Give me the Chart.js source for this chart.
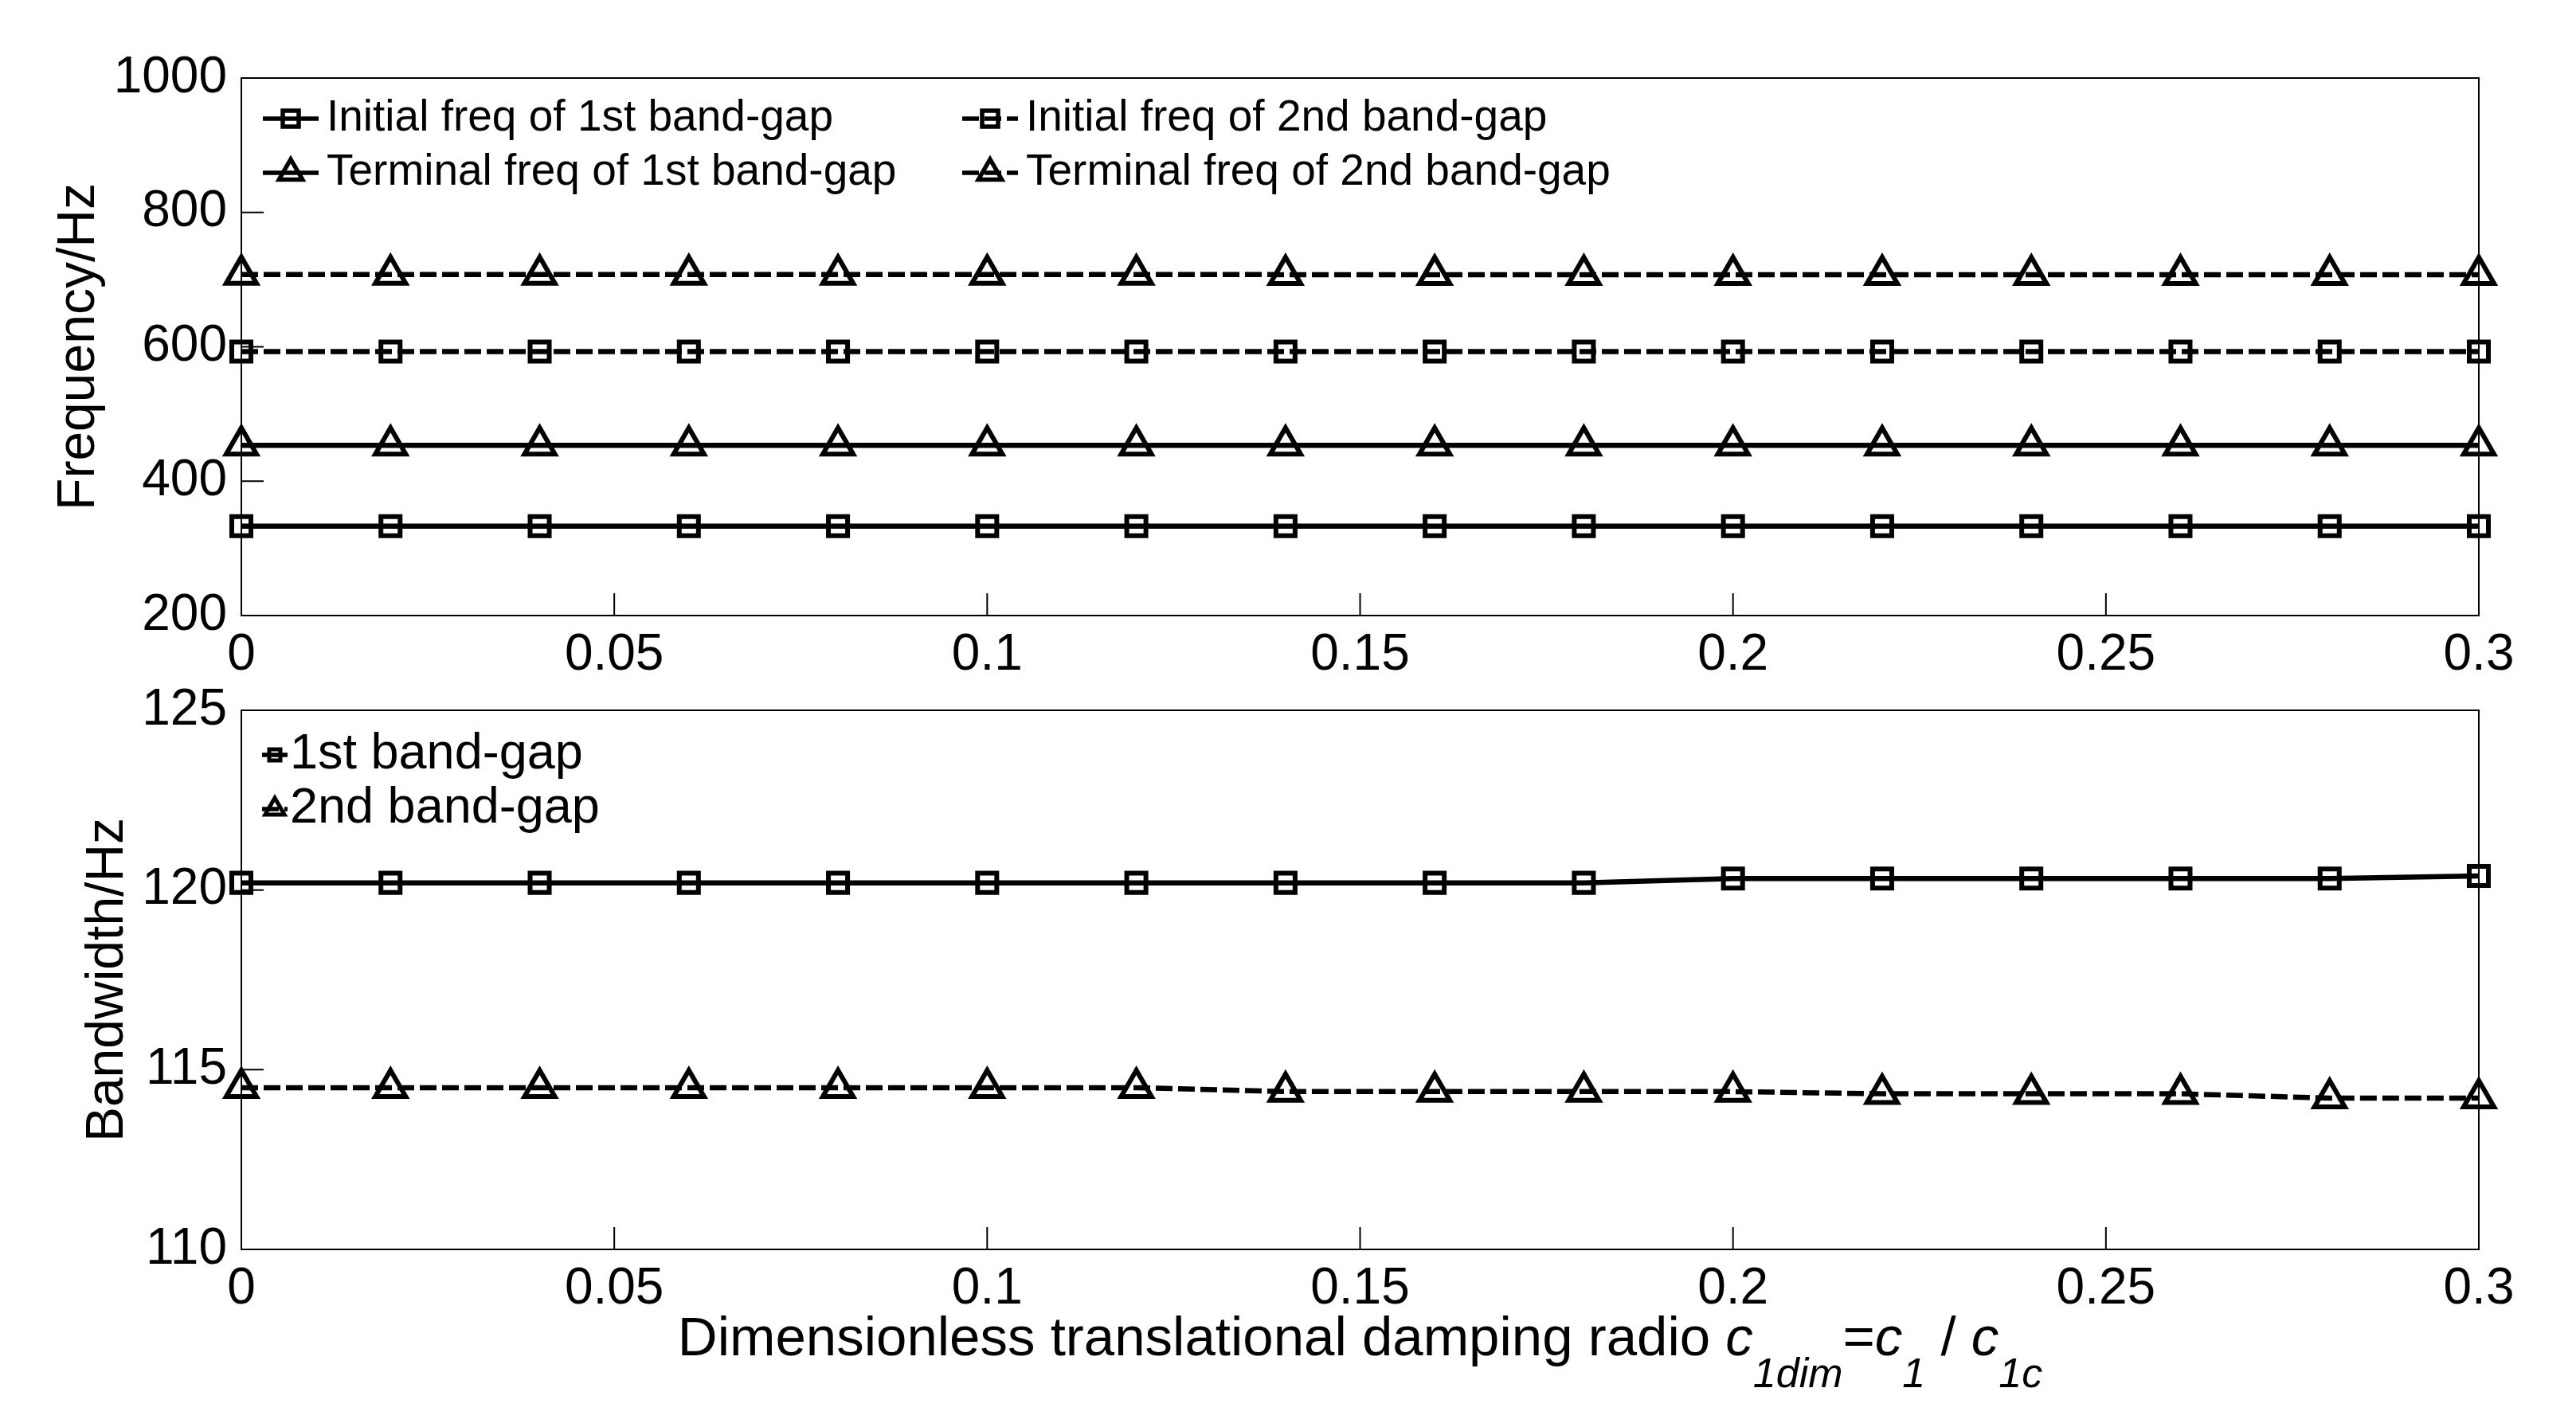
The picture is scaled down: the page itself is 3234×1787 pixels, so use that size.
<!DOCTYPE html>
<html>
<head>
<meta charset="utf-8">
<script src="https://cdn.jsdelivr.net/npm/chart.js@4.4.0/dist/chart.umd.min.js"></script>
<style>
  html, body { margin: 0; padding: 0; background: #fff; }
  #wrap { position: relative; width: 3234px; height: 1787px; }
  canvas { position: absolute; left: 0; }
  #freq-chart { top: 0; }
  #bw-chart { top: 830px; }
</style>
</head>
<body>
<div id="wrap">
  <canvas id="freq-chart" width="3234" height="880"></canvas>
  <canvas id="bw-chart" width="3234" height="957"></canvas>
</div>
<script>
// x: dimensionless damping ratio
const ratios = [0, 0.02, 0.04, 0.06, 0.08, 0.1, 0.12, 0.14, 0.16, 0.18, 0.2, 0.22, 0.24, 0.26, 0.28, 0.3];
const xTicks = [0, 0.05, 0.1, 0.15, 0.2, 0.25, 0.3];
const xTickLabels = ["0", "0.05", "0.1", "0.15", "0.2", "0.25", "0.3"];

// top plot, Hz
const initialFreq1 = [333, 333, 333, 333, 333, 333, 333, 333, 333, 333, 333, 333, 333, 333, 333, 333];
const terminalFreq1 = [453.2, 453.2, 453.2, 453.2, 453.2, 453.2, 453.2, 453.2, 453.2, 453.2, 453.3, 453.3, 453.3, 453.3, 453.3, 453.4];
const initialFreq2 = [593, 593, 593, 593, 593, 593, 593, 593, 593, 593, 593, 593, 593, 593, 593, 593];
const terminalFreq2 = [707.5, 707.5, 707.5, 707.5, 707.5, 707.5, 707.5, 707.4, 707.4, 707.4, 707.4, 707.3, 707.3, 707.3, 707.2, 707.2];
const freqTicks = [200, 400, 600, 800, 1000];

// bottom plot, Hz
const bandwidth1 = [120.2, 120.2, 120.2, 120.2, 120.2, 120.2, 120.2, 120.2, 120.2, 120.2, 120.32, 120.32, 120.32, 120.32, 120.32, 120.39];
const bandwidth2 = [114.5, 114.5, 114.5, 114.5, 114.5, 114.5, 114.5, 114.39, 114.39, 114.39, 114.39, 114.33, 114.33, 114.33, 114.21, 114.21];
const bwTicks = [110, 115, 120, 125];

const FONT = '"Liberation Sans", Arial, Helvetica, sans-serif';
const DASH = [21, 7];
const TICK_LEN = 28;

Chart.defaults.font.family = FONT;
Chart.defaults.color = "#000";

const toPoints = (ys) => ratios.map((x, i) => ({ x, y: ys[i] }));

const series = (label, ys, marker, dashed) => ({
    label,
    data: toPoints(ys),
    borderColor: "#000",
    borderWidth: 6.5,
    borderDash: dashed ? DASH : [],
    pointStyle: marker,
    pointRadius: marker === "rect" ? 17 : 22,
    pointBorderWidth: 6,
    pointBorderColor: "#000",
    pointBackgroundColor: "rgba(0,0,0,0)",
    fill: false,
    tension: 0,
    clip: false
});

// box round the plot area and inward ticks, like the original figure
const boxTicks = {
    id: "boxTicks",
    beforeDatasetsDraw(chart) {
        const { ctx, chartArea: a, scales: { x, y } } = chart;
        ctx.save();
        ctx.strokeStyle = "#000";
        ctx.lineWidth = 2;
        ctx.strokeRect(a.left, a.top, a.right - a.left, a.bottom - a.top);
        ctx.beginPath();
        x.ticks.forEach(t => {
            const px = x.getPixelForValue(t.value);
            ctx.moveTo(px, a.bottom);
            ctx.lineTo(px, a.bottom - TICK_LEN);
        });
        y.ticks.forEach(t => {
            const py = y.getPixelForValue(t.value);
            ctx.moveTo(a.left, py);
            ctx.lineTo(a.left + TICK_LEN, py);
        });
        ctx.stroke();
        ctx.restore();
    }
};

// legend with line sample + marker, drawn inside the axes
const sampleLegend = {
    id: "sampleLegend",
    afterDatasetsDraw(chart, args, opts) {
        if (!opts.items) return;
        const { ctx, chartArea: a } = chart;
        ctx.save();
        ctx.font = `${opts.size}px ${FONT}`;
        ctx.textBaseline = "middle";
        ctx.fillStyle = "#000";
        ctx.strokeStyle = "#000";
        opts.items.forEach(it => {
            const ds = chart.data.datasets[it.index];
            const x0 = a.left + it.dx;
            const cy = a.top + it.dy;
            ctx.lineWidth = opts.lineWidth;
            ctx.setLineDash(ds.borderDash.length ? DASH : []);
            ctx.beginPath();
            ctx.moveTo(x0, cy);
            ctx.lineTo(x0 + opts.sampleLen, cy);
            ctx.stroke();
            ctx.setLineDash([]);

            const cx = x0 + opts.sampleLen / 2;
            ctx.lineWidth = opts.markerWidth;
            ctx.beginPath();
            if (ds.pointStyle === "rect") {
                const s = opts.square;
                ctx.rect(cx - s / 2, cy - s / 2, s, s);
            } else {
                const r = opts.triangle;
                ctx.moveTo(cx, cy - r);
                ctx.lineTo(cx + 0.866 * r, cy + r / 2);
                ctx.lineTo(cx - 0.866 * r, cy + r / 2);
                ctx.closePath();
            }
            ctx.stroke();
            ctx.fillText(ds.label, x0 + opts.sampleLen + opts.gap, cy);
        });
        ctx.restore();
    }
};

// x title with italic subscripts
const richTitle = {
    id: "richTitle",
    afterDraw(chart, args, opts) {
        if (!opts.parts) return;
        const { ctx, chartArea: a } = chart;
        const fontOf = p => `${p.italic ? "italic " : ""}${p.sub ? opts.subSize : opts.size}px ${FONT}`;
        ctx.save();
        ctx.fillStyle = "#000";
        ctx.textBaseline = "alphabetic";
        let total = 0;
        opts.parts.forEach(p => { ctx.font = fontOf(p); total += ctx.measureText(p.text).width; });
        let x = (a.left + a.right) / 2 - total / 2;
        const base = a.bottom + opts.baseline;
        opts.parts.forEach(p => {
            ctx.font = fontOf(p);
            ctx.fillText(p.text, x, base + (p.sub ? opts.subShift : 0));
            x += ctx.measureText(p.text).width;
        });
        ctx.restore();
    }
};

const createConfig = ({ datasets, yMin, yMax, yTicks, yTitle, yTitlePad, padTop, xHeight, legend, xTitle }) => ({
    type: "line",
    data: { datasets },
    options: {
        responsive: false,
        animation: false,
        events: [],
        layout: { padding: { top: padTop, right: 3234 - 3112, left: 0, bottom: 0 } },
        scales: {
            x: {
                type: "linear",
                min: 0,
                max: 0.3,
                afterBuildTicks: s => { s.ticks = xTicks.map(v => ({ value: v })); },
                afterFit: s => { s.height = xHeight; },
                grid: { display: false },
                border: { display: false },
                ticks: { font: { size: 64 }, padding: 4, maxRotation: 0, autoSkip: false, callback: (v, i) => xTickLabels[i] }
            },
            y: {
                type: "linear",
                min: yMin,
                max: yMax,
                afterBuildTicks: s => { s.ticks = yTicks.map(v => ({ value: v })); },
                afterFit: s => { s.width = 303; },
                grid: { display: false },
                border: { display: false },
                ticks: { font: { size: 64 }, padding: 10, callback: v => `${v}` },
                title: { display: true, text: yTitle, font: { size: 66 }, padding: { top: yTitlePad, bottom: 0 } }
            }
        },
        plugins: {
            legend: { display: false },
            tooltip: { enabled: false },
            sampleLegend: legend,
            richTitle: xTitle || {}
        }
    },
    plugins: [boxTicks, sampleLegend, richTitle]
});

const freqChart = new Chart(document.getElementById("freq-chart"), createConfig({
    datasets: [
        series("Initial freq of 1st band-gap", initialFreq1, "rect", false),
        series("Terminal freq of 1st band-gap", terminalFreq1, "triangle", false),
        series("Initial freq of 2nd band-gap", initialFreq2, "rect", true),
        series("Terminal freq of 2nd band-gap", terminalFreq2, "triangle", true)
    ],
    yMin: 200, yMax: 1000, yTicks: freqTicks,
    yTitle: "Frequency/Hz", yTitlePad: 60,
    padTop: 98, xHeight: 880 - 773,
    legend: {
        size: 55, sampleLen: 70, gap: 10, lineWidth: 5.5, markerWidth: 5.5, square: 20, triangle: 17,
        items: [
            { index: 0, dx: 27, dy: 51 },
            { index: 2, dx: 905, dy: 51 },
            { index: 1, dx: 27, dy: 119 },
            { index: 3, dx: 905, dy: 119 }
        ]
    }
}));

const bwChart = new Chart(document.getElementById("bw-chart"), createConfig({
    datasets: [
        series("1st band-gap", bandwidth1, "rect", false),
        series("2nd band-gap", bandwidth2, "triangle", true)
    ],
    yMin: 110, yMax: 125, yTicks: bwTicks,
    yTitle: "Bandwidth/Hz", yTitlePad: 96,
    padTop: 892 - 830, xHeight: 957 - (1569 - 830),
    legend: {
        size: 63, sampleLen: 32, gap: 3, lineWidth: 5.5, markerWidth: 5, square: 14, triangle: 14,
        items: [
            { index: 0, dx: 26, dy: 56 },
            { index: 1, dx: 26, dy: 124 }
        ]
    },
    xTitle: {
        size: 69, subSize: 52, baseline: 133, subShift: 40,
        parts: [
            { text: "Dimensionless translational damping radio " },
            { text: "c", italic: true },
            { text: "1dim", italic: true, sub: true },
            { text: "=" },
            { text: "c", italic: true },
            { text: "1", italic: true, sub: true },
            { text: " / " },
            { text: "c", italic: true },
            { text: "1c", italic: true, sub: true }
        ]
    }
}));
</script>
</body>
</html>
